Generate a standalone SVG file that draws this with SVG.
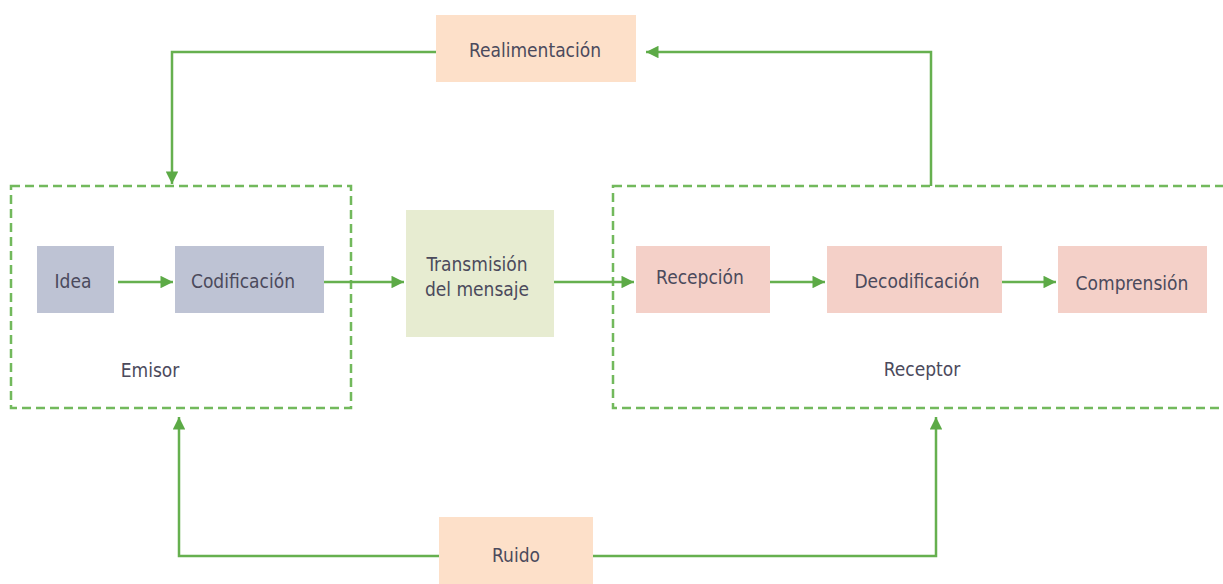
<svg xmlns="http://www.w3.org/2000/svg" width="1223" height="584" viewBox="0 0 1223 584">
<style>
text{font-family:"DejaVu Sans Condensed","DejaVu Sans","Liberation Sans",sans-serif;font-stretch:condensed;font-size:19px;fill:#4b4a5c;text-anchor:middle}
.ln{fill:none;stroke:#66b04f;stroke-width:2.5}
.dash{fill:none;stroke:#72b95c;stroke-width:2.5;stroke-dasharray:9 5}
.blue{fill:#bec3d4}
.pink{fill:#f4d0c8}
.peach{fill:#fde0c9}
.lime{fill:#e7ecd1}
</style>
<defs>
<marker id="ah" viewBox="0 0 10 10" refX="10" refY="5" markerWidth="6" markerHeight="5" markerUnits="strokeWidth" orient="auto">
<path d="M0,0 L10,5 L0,10 z" fill="#5caa46"/>
</marker>
</defs>
<g id="emisor"><rect class="dash" x="11" y="186" width="340" height="222"/><text x="150" y="377">Emisor</text></g>
<g id="receptor"><rect class="dash" x="613" y="186" width="640" height="222"/><text x="922" y="376">Receptor</text></g>
<g id="idea"><rect class="blue" x="37" y="246" width="77" height="67"/><text x="73" y="288">Idea</text></g>
<g id="codificacion"><rect class="blue" x="175" y="246" width="149" height="67"/><text x="243" y="288">Codificación</text></g>
<g id="transmision"><rect class="lime" x="406" y="210" width="148" height="127"/><text x="477" y="271">Transmisión</text><text x="477" y="296">del mensaje</text></g>
<g id="recepcion"><rect class="pink" x="636" y="246" width="134" height="67"/><text x="700" y="284">Recepción</text></g>
<g id="decodificacion"><rect class="pink" x="827" y="246" width="175" height="67"/><text x="917" y="288">Decodificación</text></g>
<g id="comprension"><rect class="pink" x="1058" y="246" width="149" height="67"/><text x="1132" y="290">Comprensión</text></g>
<g id="realimentacion"><rect class="peach" x="436" y="15" width="200" height="67"/><text x="535" y="57">Realimentación</text></g>
<g id="ruido"><rect class="peach" x="439" y="517" width="154" height="70"/><text x="516" y="562">Ruido</text></g>
<g id="connectors">
<path class="ln" d="M118,282 H173" marker-end="url(#ah)"/>
<path class="ln" d="M324,282 H404" marker-end="url(#ah)"/>
<path class="ln" d="M554,282 H634" marker-end="url(#ah)"/>
<path class="ln" d="M770,282 H825" marker-end="url(#ah)"/>
<path class="ln" d="M1002,282 H1056" marker-end="url(#ah)"/>
<path class="ln" d="M931,186 V52 H646" marker-end="url(#ah)"/>
<path class="ln" d="M436,52 H172 V184" marker-end="url(#ah)"/>
<path class="ln" d="M439,556 H179 V417" marker-end="url(#ah)"/>
<path class="ln" d="M593,556 H936 V417" marker-end="url(#ah)"/>
</g>
</svg>
